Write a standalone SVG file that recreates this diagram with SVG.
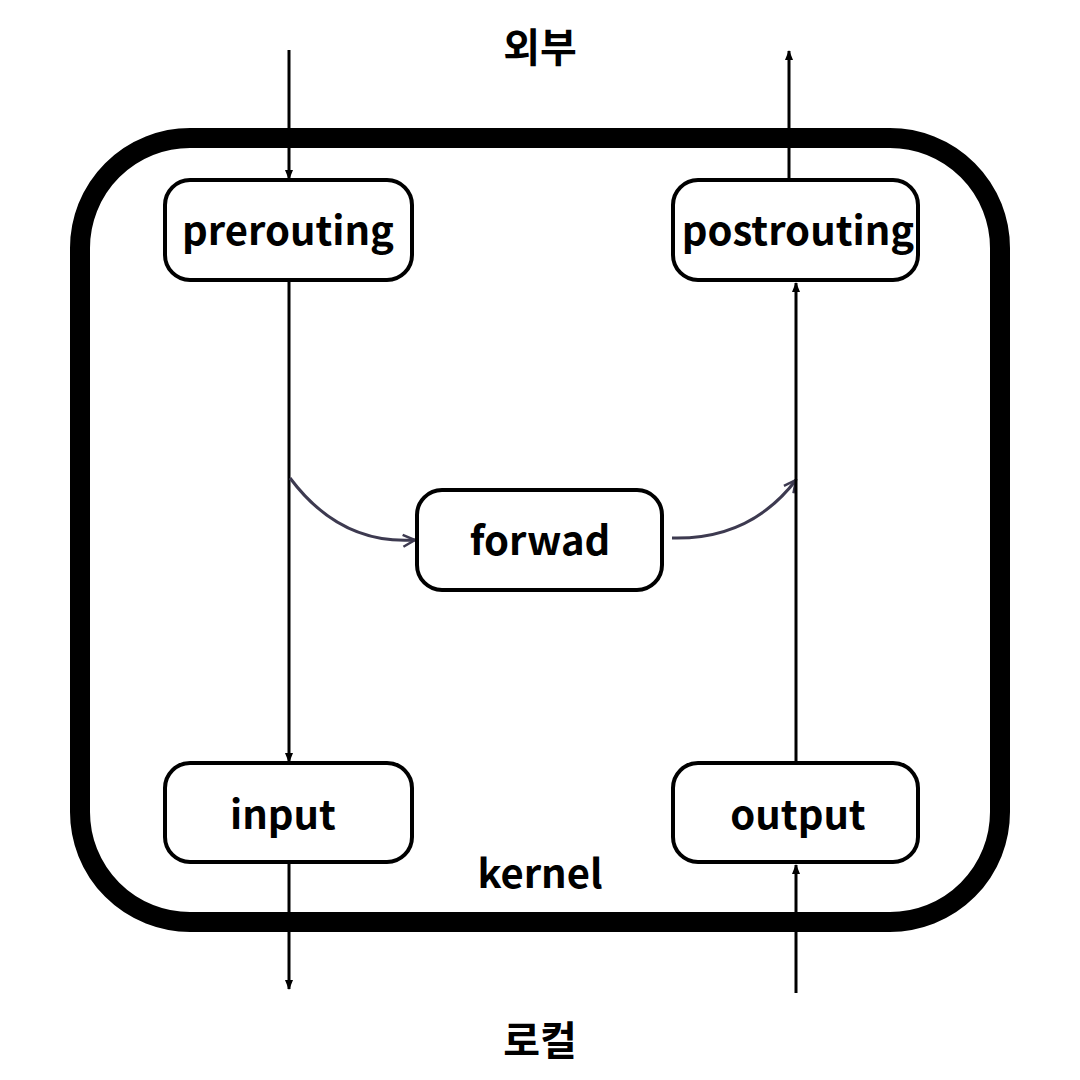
<svg xmlns="http://www.w3.org/2000/svg" width="1080" height="1080" viewBox="0 0 1080 1080">
<style>
.n{fill:#fff;stroke:#000;stroke-width:4}
.t{font-family:"Noto Sans CJK KR","Noto Sans",sans-serif;font-weight:bold;font-size:40px;text-anchor:middle;fill:#000}
.c{stroke:#000;stroke-width:3;fill:none}
.g{stroke:#3d3a50;stroke-width:3;fill:none}
</style>
<defs>
<marker id="a" markerWidth="10" markerHeight="10" refX="9" refY="5" orient="auto" markerUnits="userSpaceOnUse"><path d="M0,1 L10,5 L0,9 Z" fill="#000"/></marker>
<marker id="v" markerWidth="16" markerHeight="16" refX="14" refY="8" orient="auto" markerUnits="userSpaceOnUse"><path d="M2,2 L14,8 L2,14" fill="none" stroke="#3d3a50" stroke-width="2.5"/></marker>
</defs>
<rect x="80" y="138" width="920" height="784" rx="110" fill="none" stroke="#000" stroke-width="20"/>
<g id="connectors">
<line class="c" x1="289" y1="50" x2="289" y2="179" marker-end="url(#a)"/>
<line class="c" x1="289" y1="282" x2="289" y2="762" marker-end="url(#a)"/>
<path class="g" d="M290,478 Q340,545 415,540" marker-end="url(#v)"/>
<path class="g" d="M672,538 Q750,540 796,480" marker-end="url(#v)"/>
<line class="c" x1="796" y1="762" x2="796" y2="283" marker-end="url(#a)"/>
<line class="c" x1="789" y1="180" x2="789" y2="51" marker-end="url(#a)"/>
<line class="c" x1="289" y1="864" x2="289" y2="989" marker-end="url(#a)"/>
<line class="c" x1="796" y1="993" x2="796" y2="865" marker-end="url(#a)"/>
</g>
<g id="prerouting"><rect class="n" x="165" y="180" width="247" height="100" rx="25"/><text class="t" x="288" y="245">prerouting</text></g>
<g id="postrouting"><rect class="n" x="673" y="180" width="245" height="100" rx="25"/><text class="t" x="798" y="245">postrouting</text></g>
<g id="forwad"><rect class="n" x="417" y="490" width="245" height="100" rx="25"/><text class="t" x="540" y="555">forwad</text></g>
<g id="input"><rect class="n" x="165" y="763" width="247" height="99" rx="25"/><text class="t" x="283" y="829">input</text></g>
<g id="output"><rect class="n" x="673" y="763" width="245" height="99" rx="25"/><text class="t" x="798" y="829">output</text></g>
<text class="t" x="540" y="888">kernel</text>
<text class="t" x="540" y="62">외부</text>
<text class="t" x="540" y="1055">로컬</text>
</svg>
